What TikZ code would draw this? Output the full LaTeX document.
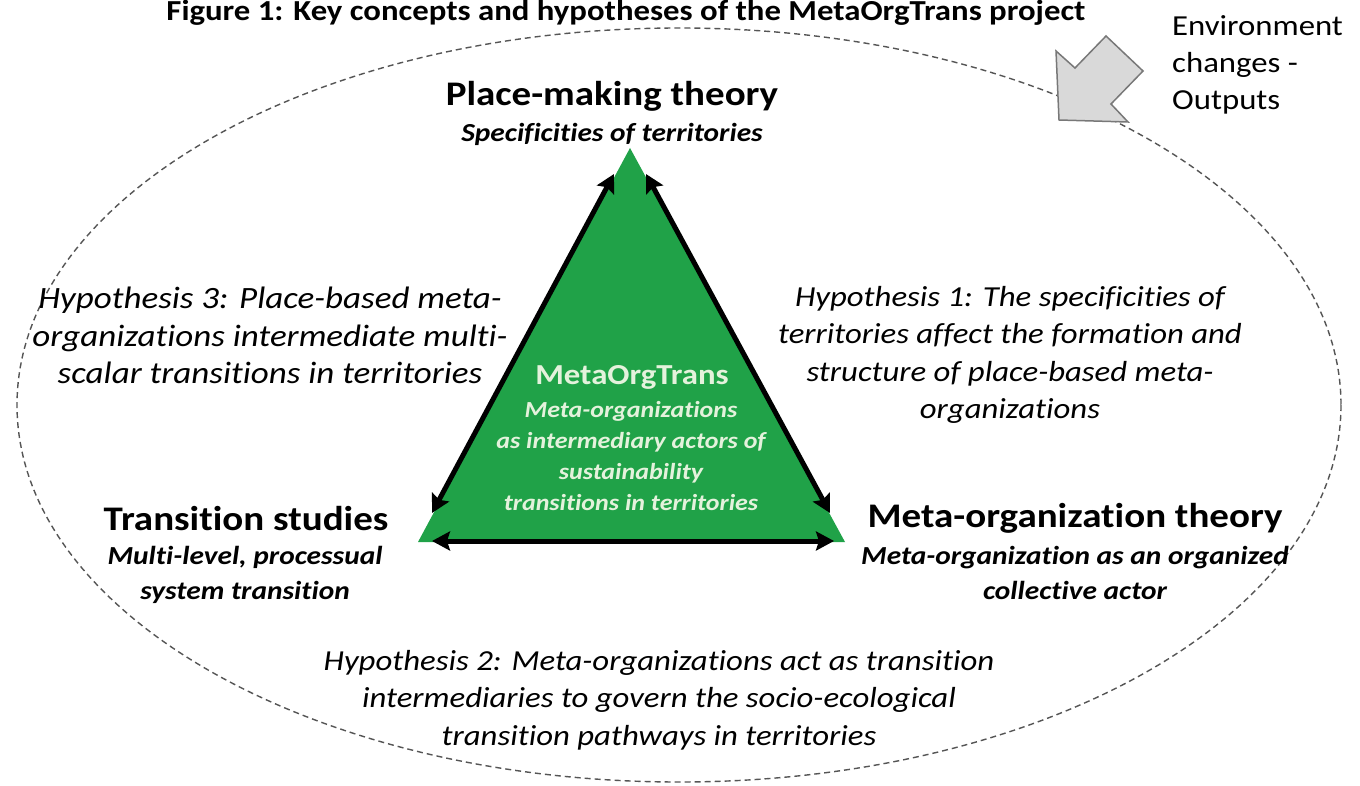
\documentclass[tikz,border=0pt]{standalone}
\usepackage{fontspec}
\setmainfont{Carlito}[FakeStretch=1.13, Ligatures=NoCommon]
\usetikzlibrary{arrows.meta}
\definecolor{trigreen}{RGB}{32,162,72}
\definecolor{palegreen}{RGB}{228,242,220}
\definecolor{ringgray}{RGB}{85,85,85}
\definecolor{arrowfill}{RGB}{217,217,217}
\definecolor{arrowline}{RGB}{120,120,120}
\tikzset{
  heading/.style={font=\fontsize{34.5}{40}\selectfont\bfseries, inner sep=0pt},
  subhead/.style={font=\fontsize{26}{35}\selectfont\bfseries\itshape, align=center, inner sep=0pt},
  hyp/.style={font=\fontsize{29}{37.5}\selectfont\itshape, align=center, inner sep=0pt},
  hypbig/.style={font=\fontsize{31}{37.5}\selectfont\itshape, align=center, inner sep=0pt},
  envtext/.style={font=\fontsize{29}{37}\selectfont, align=left, inner sep=0pt},
  linkarrow/.style={line width=5pt, black, {Stealth[length=18pt,width=19pt,inset=3pt]}-{Stealth[length=18pt,width=19pt,inset=3pt]}},
}
\begin{document}
\begin{tikzpicture}[x=1pt,y=-1pt]
\useasboundingbox (0,0) rectangle (1360,786);
\clip (0,0) rectangle (1360,786);
\fill[white] (0,0) rectangle (1360,786);
% title
\node[font=\fontsize{29}{32}\selectfont\bfseries, anchor=base, inner sep=0pt] (title) at (626,21) {Figure 1: Key concepts and hypotheses of the MetaOrgTrans project};
% dashed ring
\draw[ringgray, line width=1.4pt, dash pattern=on 6pt off 4pt] (679,405) ellipse [x radius=662, y radius=377];
% environment arrow
\draw[arrowline, fill=arrowfill, line width=1.5pt, line join=miter]
  (1056,51) -- (1075,68) -- (1106,36) -- (1143,71) -- (1111,104) -- (1128,122) -- (1059,120) -- cycle;
\node[envtext, anchor=north west] (env) at (1172,15) {Environment\\changes -\\Outputs};
% triangle
\coordinate (apex) at (630,148);
\coordinate (bl) at (418,542);
\coordinate (br) at (845,542);
\fill[trigreen] (apex) -- (bl) -- (br) -- cycle;
\coordinate (la) at (614,174);
\coordinate (lb) at (432,513);
\coordinate (ra) at (646,174);
\coordinate (rb) at (830,513);
\coordinate (ba) at (432,541);
\coordinate (bb) at (834,541);
\draw[linkarrow] (la) -- (lb);
\draw[linkarrow] (ra) -- (rb);
\draw[linkarrow] (ba) -- (bb);
% center text
\node[font=\fontsize{29}{36}\selectfont\bfseries, text=palegreen, anchor=base, inner sep=0pt] (core) at (632,384) {MetaOrgTrans};
\node[font=\fontsize{23}{31}\selectfont\bfseries\itshape, text=palegreen, align=center, anchor=north, inner sep=0pt] (coresub) at (631,401) {Meta-organizations\\as intermediary actors of\\sustainability\\transitions in territories};
% headings
\node[heading, anchor=base] (pm) at (612,106) {Place-making theory};
\node[subhead, anchor=base] (pmsub) at (612,142) {Specificities of territories};
\node[heading, anchor=base] (ts) at (246,530) {Transition studies};
\node[subhead, anchor=north] (tssub) at (245,546) {Multi-level, processual\\system transition};
\node[heading, anchor=base] (mo) at (1075,527) {Meta-organization theory};
\node[subhead, anchor=north] (mosub) at (1075,546) {Meta-organization as an organized\\collective actor};
% hypotheses
\node[hypbig, anchor=north] (h3) at (270,287) {Hypothesis 3: Place-based meta-\\organizations intermediate multi-\\scalar transitions in territories};
\node[hyp, anchor=north] (h1) at (1010,286) {Hypothesis 1: The specificities of\\territories affect the formation and\\structure of place-based meta-\\organizations};
\node[hyp, anchor=north] (h2) at (659,650) {Hypothesis 2: Meta-organizations act as transition\\intermediaries to govern the socio-ecological\\transition pathways in territories};
\end{tikzpicture}
\end{document}
